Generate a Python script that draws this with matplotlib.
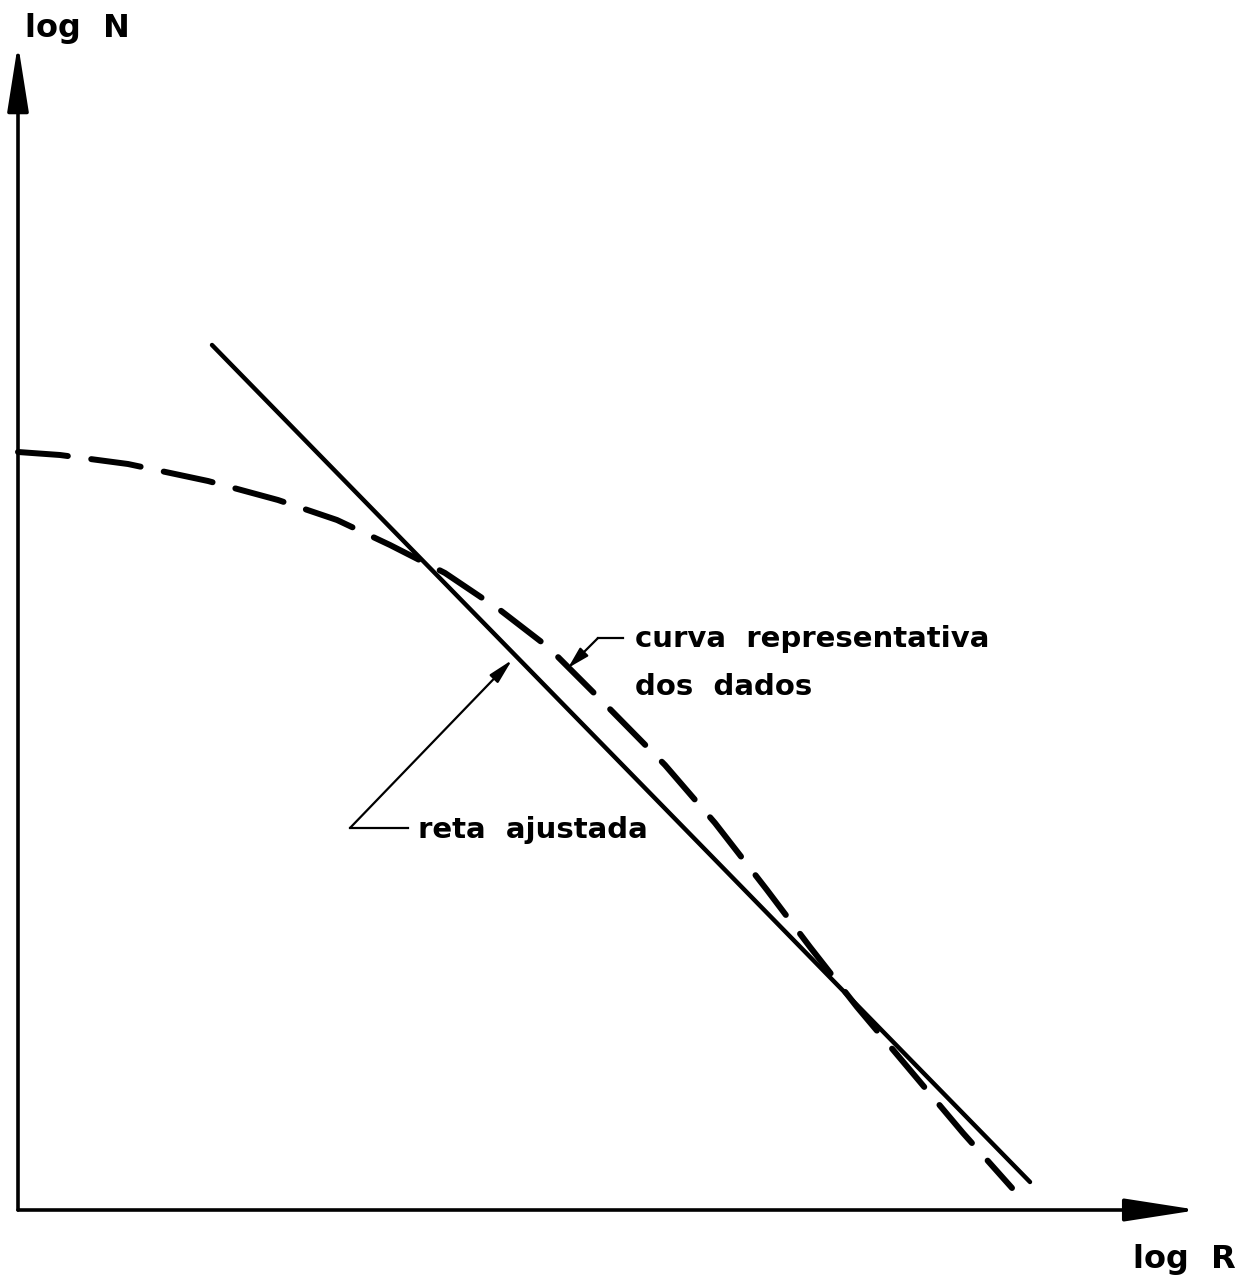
import matplotlib
matplotlib.use("Agg")
import matplotlib.pyplot as plt

plt.rcParams['font.family'] = ['DejaVu Sans']
plt.rcParams['lines.scale_dashes'] = False

# Curve through the observed data (log R, log N)
curve_logR = [0.00, 0.42, 1.10, 1.90, 2.60, 3.19, 3.72, 4.27, 4.82, 5.30,
              5.85, 6.47, 6.97, 7.49, 7.92, 8.39, 8.92, 9.45, 9.94]
curve_logN = [7.58, 7.55, 7.46, 7.29, 7.10, 6.90, 6.65, 6.37, 6.00, 5.63,
              5.08, 4.45, 3.87, 3.20, 2.63, 2.03, 1.40, 0.77, 0.22]

# Fitted straight line (end points)
fit_logR = [1.94, 10.12]
fit_logN = [8.65, 0.28]

axis_label_x = "log  R"
axis_label_y = "log  N"
label_curve = ["curva  representativa", "dos  dados"]
label_fit = "reta  ajustada"

fig = plt.figure(figsize=(12.59, 12.79), dpi=100)
ax = fig.add_axes([0, 0, 1, 1])
ax.set_xlim(-0.18, 12.41)
ax.set_ylim(-0.69, 12.10)
ax.axis('off')

# Axes with arrow heads
ax.annotate('', xy=(0, 11.66), xytext=(0, 0),
            arrowprops=dict(arrowstyle='-|>,head_length=41,head_width=6.5',
                            mutation_scale=1, lw=2.6, color='black',
                            shrinkA=0, shrinkB=0))
ax.annotate('', xy=(11.80, 0), xytext=(0, 0),
            arrowprops=dict(arrowstyle='-|>,head_length=45,head_width=7',
                            mutation_scale=1, lw=2.6, color='black',
                            shrinkA=0, shrinkB=0))

# Fitted line
ax.plot(fit_logR, fit_logN, color='black', lw=3.2, solid_capstyle='round')

# Data curve (dashed)
ax.plot(curve_logR, curve_logN, color='black', lw=4.3,
        dashes=(36, 17), dash_capstyle='round', solid_joinstyle='round')

# Axis labels
ax.text(0.07, 11.73, axis_label_y, fontsize=23, fontweight='bold',
        ha='left', va='baseline')
ax.text(11.15, -0.58, axis_label_x, fontsize=23, fontweight='bold',
        ha='left', va='baseline')

# Annotation: data curve
ax.plot([5.80, 6.05], [5.72, 5.72], color='black', lw=1.6)
ax.annotate('', xy=(5.50, 5.42), xytext=(5.80, 5.72),
            arrowprops=dict(arrowstyle='-|>,head_length=13,head_width=3.5',
                            mutation_scale=1, lw=1.6, color='black',
                            shrinkA=0, shrinkB=0))
ax.text(6.17, 5.63, label_curve[0], fontsize=21, fontweight='bold',
        ha='left', va='baseline')
ax.text(6.17, 5.15, label_curve[1], fontsize=21, fontweight='bold',
        ha='left', va='baseline')

# Annotation: fitted line
ax.plot([3.32, 3.90], [3.82, 3.82], color='black', lw=1.6)
ax.annotate('', xy=(4.94, 5.50), xytext=(3.32, 3.82),
            arrowprops=dict(arrowstyle='-|>,head_length=15,head_width=3.5',
                            mutation_scale=1, lw=1.6, color='black',
                            shrinkA=0, shrinkB=0))
ax.text(4.00, 3.72, label_fit, fontsize=21, fontweight='bold',
        ha='left', va='baseline')

fig.savefig('out.png', dpi=100, facecolor='white')
